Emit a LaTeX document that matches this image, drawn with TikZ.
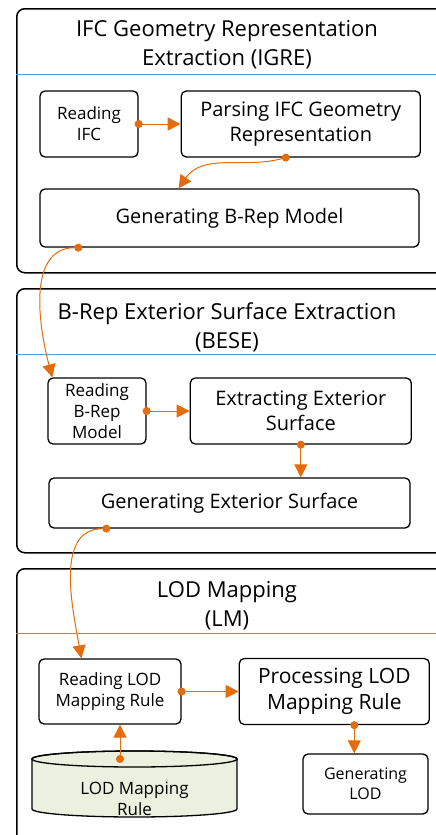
\documentclass[tikz,border=0pt]{standalone}
\usepackage{fontspec}
\setmainfont{Open Sans}
\usetikzlibrary{positioning, arrows.meta}
\definecolor{flowc}{RGB}{228,108,10}
\definecolor{sepc}{RGB}{91,155,213}
\definecolor{dbfill}{RGB}{235,241,222}

\begin{document}
\begin{tikzpicture}[x=1pt, y=1pt,
    stage/.style={draw, line width=1.5pt, rounded corners=8pt, anchor=north west, minimum width=440pt},
    sepline/.style={draw=sepc, line width=0.8pt},
    header/.style={font=\fontsize{22}{29}\selectfont, align=center},
    task/.style={draw, fill=white, line width=1.3pt, rounded corners=5pt, align=center, inner sep=0pt, font=\fontsize{20}{25}\selectfont},
    small/.style={font=\fontsize{17}{21}\selectfont},
    flow/.style={draw=flowc, line width=1pt, {Circle[length=8pt]}-{Triangle[length=13pt, width=13pt]}, shorten <=-4pt}
]
\useasboundingbox (0,0) rectangle (436,-835);
\clip (0,0) rectangle (436,-835);

% IGRE
\node[stage, minimum height=264pt] (igre) at (16,-8) {};
\draw[sepline] ([yshift=-66pt]igre.north west) -- ([yshift=-66pt]igre.north east);
\node[header] (igre_title) at (227,-45) {IFC Geometry Representation\\Extraction (IGRE)};

\node[task, small, minimum width=98pt, minimum height=66pt] (readifc) at (89,-124) {Reading\\IFC};
\node[task, minimum width=239pt, minimum height=66pt, right=42pt of readifc] (parseifc) {Parsing IFC Geometry\\Representation};
\node[task, minimum width=379pt, minimum height=58pt] (genbrep) at (229.5,-218) {Generating B-Rep Model};

% BESE
\node[stage, minimum height=264pt] (bese) at (16,-288) {};
\draw[sepline] ([yshift=-66pt]bese.north west) -- ([yshift=-66pt]bese.north east);
\node[header] (bese_title) at (227,-327) {B-Rep Exterior Surface Extraction\\(BESE)};

\node[task, small, minimum width=98pt, minimum height=66pt] (readbrep) at (97,-411) {Reading\\B-Rep\\Model};
\node[task, minimum width=221pt, minimum height=66pt, right=43pt of readbrep] (extsurf) {Extracting Exterior\\Surface};
\node[task, minimum width=361pt, minimum height=50pt] (genext) at (229.5,-503) {Generating Exterior Surface};

% LM
\node[stage, minimum height=300pt] (lm) at (16,-568) {};
\draw[sepline] ([yshift=-65pt]lm.north west) -- ([yshift=-65pt]lm.north east);
\node[header] (lm_title) at (227,-606) {LOD Mapping\\(LM)};

\node[task, small, minimum width=142pt, minimum height=65pt] (readlod) at (110,-691.5) {Reading LOD\\Mapping Rule};
\node[task, font=\fontsize{21}{26}\selectfont, minimum width=190pt, minimum height=66pt, right=57pt of readlod] (proclod) {Processing LOD\\Mapping Rule};
\node[task, font=\fontsize{16}{20}\selectfont, minimum width=125pt, minimum height=60pt] (genlod) at (365.5,-784) {Generating\\LOD};

% rule store
\coordinate (cyl) at (134.5,-759);
\draw[line width=1.3pt, fill=dbfill] ([xshift=-102.5pt]cyl) -- ++(0,-50)
    arc[start angle=180, end angle=360, x radius=102.5, y radius=8] -- ++(0,50)
    arc[start angle=0, end angle=180, x radius=102.5, y radius=8] -- cycle;
\draw[line width=1.3pt] (cyl) ellipse[x radius=102.5, y radius=8];
\node[small, align=center] (lodrule) at (134.5,-799) {LOD Mapping\\Rule};
\coordinate (cyltop) at (120,-759);

% flows
\draw[flow] (readifc.east) -- (parseifc.west);
\draw[flow] ([xshift=-15pt]parseifc.south) to[out=195, in=55] ([xshift=-51pt]genbrep.north);
\draw[flow] ([xshift=39pt]genbrep.south west) to[out=180, in=105] ([xshift=5pt]readbrep.north west);
\draw[flow] (readbrep.east) -- (extsurf.west);
\draw[flow] (extsurf.south) -- (extsurf.south |- genext.north);
\draw[flow] ([xshift=58pt]genext.south west) to[out=180, in=100] ([xshift=43pt]readlod.north west);
\draw[flow] (readlod.east) -- (proclod.west);
\draw[flow] ([xshift=20pt]proclod.south) -- ([xshift=20pt]proclod.south |- genlod.north);
\draw[flow] (cyltop) -- (cyltop |- readlod.south);

\end{tikzpicture}
\end{document}
